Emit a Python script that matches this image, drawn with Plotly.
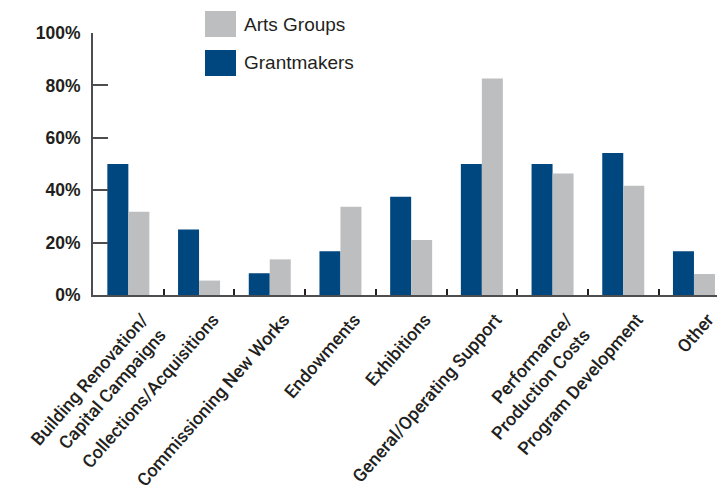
import plotly.graph_objects as go

categories = [
    "Building Renovation/<br>Capital Campaigns",
    "Collections/Acquisitions",
    "Commissioning New Works",
    "Endowments",
    "Exhibitions",
    "General/Operating Support",
    "Performance/<br>Production Costs",
    "Program Development",
    "Other",
]
grantmakers = [50, 25, 8.3, 16.7, 37.5, 50, 50, 54.2, 16.7]
arts_groups = [31.8, 5.5, 13.6, 33.7, 21, 82.6, 46.4, 41.7, 8]
y_ticks = [0, 20, 40, 60, 80, 100]

BLUE = "#00467f"
GRAY = "#bcbec0"
TXT = "#231f20"
FONT = "Liberation Sans"

fig = go.Figure()
fig.add_trace(go.Bar(x=categories, y=grantmakers, name="Grantmakers",
                     marker=dict(color=BLUE, line=dict(width=0))))
fig.add_trace(go.Bar(x=categories, y=arts_groups, name="Arts Groups",
                     marker=dict(color=GRAY, line=dict(width=0))))

fig.update_layout(
    width=725, height=490,
    margin=dict(l=85, r=15, t=25, b=203),
    paper_bgcolor="white", plot_bgcolor="white",
    barmode="group", bargap=0.406, bargroupgap=0,
    showlegend=False,
    font=dict(family=FONT, color=TXT),
)
fig.update_xaxes(
    range=[-0.5, 8.34], automargin=False,
    showline=True, linecolor="#4d4d4f", linewidth=2,
    ticks="inside", tickson="boundaries", ticklen=6, tickcolor="#231f20", tickwidth=2,
    tickangle=-49, ticklabelshift=14, ticklabelstandoff=5,
    ticklabeloverflow="allow",
    tickfont=dict(family="Roboto", size=18, color=TXT, weight=500),
    showgrid=False, zeroline=False,
)
fig.update_yaxes(
    range=[0, 100], tickvals=y_ticks, ticktext=[f"{v}%" for v in y_ticks],
    automargin=False, ticklabelstandoff=7,
    showline=True, linecolor="#4d4d4f", linewidth=2,
    ticks="inside", ticklen=15, tickcolor="#4d4d4f", tickwidth=2,
    tickfont=dict(family=FONT, size=17.5, color=TXT, weight="bold"),
    showgrid=False, zeroline=False,
)

# custom legend with large swatches
legend_items = [("Arts Groups", GRAY, 0), ("Grantmakers", BLUE, 1)]
for name, col, i in legend_items:
    y0 = 11 + i * 39
    fig.add_shape(type="rect", xref="paper", yref="paper",
                  x0=(205 - 93) / 625, x1=(236 - 93) / 625,
                  y0=1 - (y0 + 26 - 33) / 262, y1=1 - (y0 - 33) / 262,
                  fillcolor=col, line=dict(width=0))
    fig.add_annotation(xref="paper", yref="paper", x=(242 - 93) / 625,
                       y=1 - (y0 + 13 - 33) / 262, text=name, showarrow=False,
                       xanchor="left", yanchor="middle",
                       font=dict(family=FONT, size=19, color=TXT))

fig.write_html("out.html")
